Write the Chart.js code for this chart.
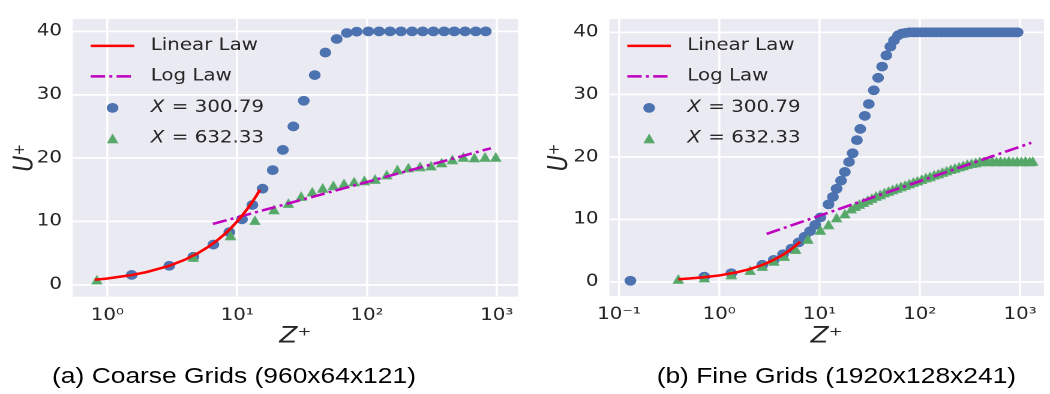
<!DOCTYPE html>
<html><head><meta charset="utf-8">
<script src="https://cdn.jsdelivr.net/npm/chart.js@4.4.1/dist/chart.umd.min.js"></script>
<style>
html,body{margin:0;padding:0;background:#fff;}
#stage{position:absolute;left:0;top:0;width:875px;height:394px;transform:scaleX(1.2);transform-origin:0 0;}
.box{position:absolute;top:0;}
.cap{position:absolute;top:362px;font-family:"Liberation Sans",Arial,sans-serif;font-size:22px;color:#000;white-space:nowrap;text-align:center;line-height:28px;}
</style></head><body>
<div id="stage">
<div class="box" style="left:0;width:440px;height:350px"><canvas id="c1" width="440" height="350"></canvas></div>
<div class="box" style="left:447px;width:428px;height:350px"><canvas id="c2" width="428" height="350"></canvas></div>
<div class="cap" style="left:0;width:390px">(a) Coarse Grids (960x64x121)</div>
<div class="cap" style="left:497px;width:400px">(b) Fine Grids (1920x128x241)</div>
</div>
<script>
// ---------- DATA ----------
const legendLabels = ['Linear Law', 'Log Law', 'X = 300.79', 'X = 632.33'];
const yTicks = [0, 10, 20, 30, 40];
const yTickLabels = ['0', '10', '20', '30', '40'];
const coarseXTicks = [1, 10, 100, 1000];
const coarseXTickLabels = ['10\u2070', '10\u00B9', '10\u00B2', '10\u00B3'];
const fineXTicks = [0.1, 1, 10, 100, 1000];
const fineXTickLabels = ['10\u207B\u00B9', '10\u2070', '10\u00B9', '10\u00B2', '10\u00B3'];

// (a) coarse grids
const coarseLinearZ = [0.8, 1, 1.5, 2, 3, 4, 5, 6, 7, 8, 9, 10, 11, 12, 13, 14, 15];
const coarseLinearU = [0.8, 1, 1.5, 2, 3, 4, 5, 6, 7, 8, 9, 10, 11, 12, 13, 14, 15];
const coarseLogZ = [6.5, 900];
const coarseLogU = [9.6, 21.55];
const coarseBlueZ = [1.54, 3.0, 4.6, 6.56, 8.7, 10.9, 13.1, 15.7, 18.8, 22.5, 27.1, 32.6, 39.6, 47.8, 58.5, 70, 83.4, 102.5, 124, 150.6, 183, 222.7, 269, 325, 393, 471, 570, 689, 823];
const coarseBlueU = [1.56, 3.0, 4.43, 6.35, 8.3, 10.33, 12.6, 15.17, 18.1, 21.3, 25.0, 29.05, 33.1, 36.66, 38.8, 39.75, 39.95, 40, 40, 40, 40, 40, 40, 40, 40, 40, 40, 40, 40];
const coarseGreenZ = [0.83, 4.6, 8.9, 13.7, 19.2, 24.8, 31.1, 37.9, 45.6, 55.1, 66.6, 79.6, 95.5, 115.4, 142, 171.5, 208.4, 256.6, 311.7, 376.6, 455, 553, 672, 812, 982];
const coarseGreenU = [0.8, 4.4, 7.8, 10.2, 11.9, 12.9, 14.0, 14.7, 15.3, 15.7, 16.0, 16.3, 16.5, 16.7, 17.4, 18.2, 18.5, 18.7, 18.8, 19.3, 19.8, 20.2, 20.1, 20.2, 20.2];

// (b) fine grids
const fineLinearZ = [0.39, 0.5, 0.7, 1, 1.5, 2, 2.5, 3, 3.5, 4, 4.5, 5, 5.5, 6, 6.4];
const fineLinearU = [0.39, 0.5, 0.7, 1, 1.5, 2, 2.5, 3, 3.5, 4, 4.5, 5, 5.5, 6, 6.4];
const fineLogZ = [2.97, 1294];
const fineLogU = [7.66, 22.27];
const fineBlueZ = [0.13, 0.71, 1.32, 2.69, 3.5, 4.33, 5.25, 6.2, 7.1, 8.05, 9.06, 10.2, 12.3, 13.6, 14.8, 16.4, 17.9, 19.7, 21.4, 23.6, 25.5, 28.3, 31.0, 34.8, 38.4, 42.1, 46.4, 50.9, 55.3, 60.6, 66, 72, 79, 87, 95, 104, 114, 125, 137, 150, 165, 181, 198, 217, 238, 261, 286, 314, 344, 377, 413, 453, 497, 545, 597, 655, 718, 787, 863, 946];
const fineBlueU = [0.15, 0.8, 1.35, 2.7, 3.5, 4.4, 5.3, 6.3, 7.2, 8.1, 9.1, 10.3, 12.4, 13.6, 14.9, 16.2, 17.6, 19.2, 20.6, 22.7, 24.5, 26.6, 28.5, 30.7, 32.7, 34.5, 36.3, 37.7, 38.7, 39.5, 39.8, 39.9, 40, 40, 40, 40, 40, 40, 40, 40, 40, 40, 40, 40, 40, 40, 40, 40, 40, 40, 40, 40, 40, 40, 40, 40, 40, 40, 40, 40];
const fineGreenZ = [0.39, 0.71, 1.32, 2.03, 2.69, 3.5, 4.45, 5.8, 7.66, 10.2, 12.3, 14.8, 17.9, 20.7, 22.8, 25, 27.5, 30.3, 33.3, 36.6, 40.3, 44.3, 48.7, 53.6, 59, 64.9, 71.4, 78.5, 86.4, 95, 104.5, 115, 126.5, 139, 153, 168, 185, 204, 224, 247, 271, 298, 328, 361, 397, 437, 480, 528, 581, 639, 703, 773, 851, 936, 1030, 1133, 1246, 1340];
const fineGreenU = [0.45, 0.66, 1.18, 1.84, 2.5, 3.35, 4.1, 5.2, 6.85, 8.3, 9.2, 10.3, 10.9, 11.7, 12.1, 12.45, 12.75, 13.1, 13.4, 13.75, 14.0, 14.3, 14.55, 14.8, 15.05, 15.3, 15.5, 15.75, 16.0, 16.2, 16.45, 16.7, 16.9, 17.15, 17.35, 17.6, 17.8, 18.05, 18.25, 18.45, 18.65, 18.85, 19.0, 19.15, 19.3, 19.35, 19.3, 19.4, 19.3, 19.35, 19.3, 19.4, 19.3, 19.35, 19.3, 19.4, 19.3, 19.35];

// ---------- STYLE / HELPERS ----------
const BLUE = '#4C72B0', GREEN = '#55A868', RED = '#FF0000', MAG = '#BF00BF', TXT = '#262626';
Chart.defaults.font.family = 'DejaVu Sans';

function pts(xs, ys) { return xs.map((x, i) => ({ x: x, y: ys[i] })); }

function makeTriangle(color, w, h) {
  const s = 4;
  const c = document.createElement('canvas');
  c.width = w * s; c.height = h * s;
  const g = c.getContext('2d');
  g.scale(s, s);
  g.fillStyle = color;
  g.beginPath();
  g.moveTo(w / 2, 0.2); g.lineTo(w - 0.2, h - 0.2); g.lineTo(0.2, h - 0.2);
  g.closePath(); g.fill();
  const img = new Image(w, h);
  img.src = c.toDataURL();
  return img;
}

const bgPlugin = {
  id: 'bgArea',
  beforeDraw(chart) {
    const { ctx, chartArea: a } = chart;
    ctx.save();
    ctx.fillStyle = '#EAEAF2';
    ctx.fillRect(a.left, a.top, a.right - a.left, a.bottom - a.top);
    ctx.restore();
  }
};

const legendPlugin = {
  id: 'mplLegend',
  afterDraw(chart) {
    const { ctx, chartArea: a } = chart;
    const rowOffsets = [27, 57.5, 89, 119.5];
    ctx.save();
    chart.data.datasets.forEach((ds, i) => {
      const y = a.top + rowOffsets[i];
      const x0 = a.left + 15, x1 = a.left + 51.3, xm = a.left + 33.2;
      if (ds.showLine) {
        ctx.strokeStyle = ds.borderColor;
        ctx.lineWidth = ds.borderWidth;
        ctx.setLineDash(ds.borderDash || []);
        ctx.beginPath(); ctx.moveTo(x0, y); ctx.lineTo(x1, y); ctx.stroke();
        ctx.setLineDash([]);
      } else if (ds.pointStyle === 'circle') {
        ctx.fillStyle = ds.backgroundColor;
        ctx.beginPath(); ctx.arc(xm, y, ds.pointRadius, 0, Math.PI * 2); ctx.fill();
      } else {
        const im = ds.pointStyle;
        ctx.drawImage(im, xm - im.width / 2, y - im.height / 2, im.width, im.height);
      }
      ctx.fillStyle = TXT;
      ctx.textBaseline = 'middle';
      ctx.textAlign = 'left';
      const label = ds.label;
      const tx = a.left + 65;
      if (label.startsWith('X ')) {
        ctx.font = 'italic 16.5px "DejaVu Sans"';
        ctx.fillText('X', tx, y);
        const w = ctx.measureText('X').width;
        ctx.font = '16.5px "DejaVu Sans"';
        ctx.fillText(label.slice(1), tx + w + 1, y);
      } else {
        ctx.font = '16.5px "DejaVu Sans"';
        ctx.fillText(label, tx, y);
      }
    });
    ctx.restore();
  }
};

function build(id, o) {
  const datasets = [
    { label: legendLabels[0], data: pts(o.linZ, o.linU), showLine: true, borderColor: RED, borderWidth: 2.5, pointRadius: 0, order: 0 },
    { label: legendLabels[1], data: pts(o.logZ, o.logU), showLine: true, borderColor: MAG, borderWidth: 2.5, borderDash: [12, 3.5, 2.5, 3.5], pointRadius: 0, order: 1 },
    { label: legendLabels[2], data: pts(o.blueZ, o.blueU), showLine: false, pointStyle: 'circle', pointRadius: 4.9, backgroundColor: BLUE, borderWidth: 0, order: 3 },
    { label: legendLabels[3], data: pts(o.greenZ, o.greenU), showLine: false, pointStyle: o.tri, pointRadius: 5, backgroundColor: GREEN, borderWidth: 0, order: 2 }
  ];
  return new Chart(document.getElementById(id), {
    type: 'scatter',
    data: { datasets },
    options: {
      responsive: false, animation: false, events: [], devicePixelRatio: 2,
      layout: { padding: { top: 7, right: o.padRight, bottom: 0, left: 0 } },
      plugins: { legend: { display: false }, tooltip: { enabled: false } },
      scales: {
        x: {
          type: 'logarithmic', min: o.xmin, max: o.xmax, bounds: 'data',
          afterBuildTicks: s => { s.ticks = o.xTicks.map(v => ({ value: v })); },
          afterFit: s => { s.height = o.xAxisH; },
          ticks: { callback: (v, i) => o.xLabels[i], color: TXT, font: { size: 16.5 }, padding: 9, maxRotation: 0, autoSkip: false },
          grid: { color: '#FFFFFF', lineWidth: 1.8, drawTicks: false },
          border: { display: false },
          title: { display: true, text: 'Z\u207A', color: TXT, font: { size: 22, style: 'italic' }, padding: { top: 0, bottom: 0 } }
        },
        y: {
          type: 'linear', min: o.ymin, max: o.ymax,
          afterBuildTicks: s => { s.ticks = yTicks.map(v => ({ value: v })); },
          afterFit: s => { s.width = o.yAxisW; },
          ticks: { callback: (v, i) => yTickLabels[i], color: TXT, font: { size: 16.5 }, padding: 9 },
          grid: { color: '#FFFFFF', lineWidth: 1.8, drawTicks: false },
          border: { display: false },
          title: { display: true, text: 'U\u207A', color: TXT, font: { size: 22, style: 'italic' }, padding: { top: o.yTitlePad, bottom: 0 } }
        }
      }
    },
    plugins: [bgPlugin, legendPlugin]
  });
}

const triImg = makeTriangle(GREEN, 10, 10);
triImg.decode().catch(() => {}).then(() => {
  build('c1', {
    linZ: coarseLinearZ, linU: coarseLinearU, logZ: coarseLogZ, logU: coarseLogU,
    blueZ: coarseBlueZ, blueU: coarseBlueU, greenZ: coarseGreenZ, greenU: coarseGreenU, tri: triImg,
    xmin: 0.541, xmax: 1459, ymin: -1.88, ymax: 41.97,
    xTicks: coarseXTicks, xLabels: coarseXTickLabels,
    padRight: 8.3, xAxisH: 53.3, yAxisW: 60.6, yTitlePad: 8
  });
  build('c2', {
    linZ: fineLinearZ, linU: fineLinearU, logZ: fineLogZ, logU: fineLogU,
    blueZ: fineBlueZ, blueU: fineBlueU, greenZ: fineGreenZ, greenU: fineGreenU, tri: triImg,
    xmin: 0.0801, xmax: 1734, ymin: -2.3, ymax: 42.15,
    xTicks: fineXTicks, xLabels: fineXTickLabels,
    padRight: 2, xAxisH: 54, yAxisW: 60.75, yTitlePad: 6.5
  });
});
</script>
</body></html>
